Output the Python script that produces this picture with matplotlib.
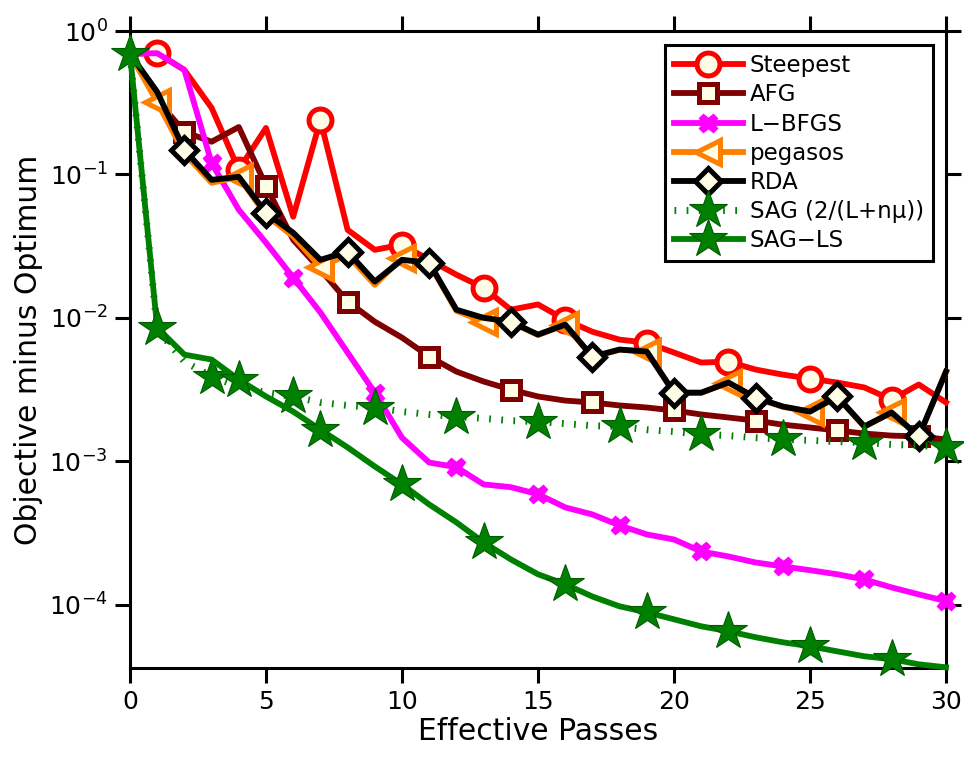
import matplotlib
matplotlib.use("Agg")
import matplotlib.pyplot as plt
from matplotlib.ticker import NullLocator, FixedLocator

# effective passes 0..30
passes = list(range(31))

steepest = [0.693, 0.703, 0.535, 0.291, 0.108, 0.211, 0.0507, 0.240, 0.0411, 0.0298,
            0.0324, 0.0254, 0.0200, 0.0162, 0.0114, 0.0124, 0.0097, 0.0080, 0.00705,
            0.00671, 0.00573, 0.00488, 0.00495, 0.00436, 0.00402, 0.00377, 0.00354,
            0.00327, 0.00269, 0.00343, 0.00257]
afg = [0.693, 0.33, 0.198, 0.169, 0.214, 0.0833, 0.0350, 0.0217, 0.0130, 0.0094,
       0.00728, 0.00537, 0.00422, 0.00360, 0.00316, 0.00283, 0.00265, 0.00257,
       0.00245, 0.00237, 0.00226, 0.00212, 0.00202, 0.00192, 0.00180, 0.00172,
       0.00164, 0.00156, 0.00151, 0.00149, 0.00142]
lbfgs = [0.693, 0.70, 0.535, 0.120, 0.0567, 0.0334, 0.0191, 0.0109, 0.00573, 0.00301,
         0.00146, 0.00098, 0.00091, 0.00069, 0.00066, 0.00059, 0.000477, 0.000426,
         0.000357, 0.000309, 0.000285, 0.000235, 0.000217, 0.000197, 0.000185,
         0.000174, 0.000163, 0.000150, 0.000132, 0.000118, 0.000106]
pegasos = [0.693, 0.320, 0.140, 0.0874, 0.096, 0.052, 0.037, 0.0227, 0.0275, 0.0170,
           0.0262, 0.0240, 0.0112, 0.0094, 0.0093, 0.0076, 0.00897, 0.0053, 0.0060,
           0.00582, 0.0030, 0.0030, 0.00354, 0.00275, 0.0024, 0.00222, 0.0028,
           0.00174, 0.00219, 0.00149, 0.00422]
rda = [0.693, 0.376, 0.148, 0.0917, 0.0962, 0.0540, 0.0392, 0.0254, 0.0289, 0.0179,
       0.0254, 0.0242, 0.0114, 0.0100, 0.0094, 0.00764, 0.00897, 0.00537, 0.00601,
       0.00582, 0.00301, 0.00301, 0.00354, 0.00278, 0.00241, 0.00222, 0.00283,
       0.00175, 0.00219, 0.00149, 0.00422]
sag = [0.693, 0.00828, 0.00495, 0.00390, 0.00332, 0.00301, 0.00283, 0.00257, 0.00245,
       0.00237, 0.00222, 0.00212, 0.00205, 0.00199, 0.00192, 0.00189, 0.00183,
       0.00177, 0.00175, 0.00166, 0.00161, 0.00154, 0.00151, 0.00146, 0.00142,
       0.00140, 0.00137, 0.00135, 0.00131, 0.00129, 0.00125]
sag_ls = [0.693, 0.00855, 0.00554, 0.00512, 0.00371, 0.00283, 0.00222, 0.00166,
          0.00125, 0.00092, 0.00069, 0.000500, 0.000375, 0.000272, 0.000207,
          0.000163, 0.000139, 0.000114, 0.0000974, 0.0000885, 0.0000791, 0.0000707,
          0.0000653, 0.0000593, 0.0000547, 0.0000513, 0.0000473, 0.0000437,
          0.0000417, 0.0000384, 0.0000366]

labels = ["Steepest", "AFG", "L\u2212BFGS", "pegasos", "RDA",
          "SAG (2/(L+n\u03bc))", "SAG\u2212LS"]
x_ticks = [0, 5, 10, 15, 20, 25, 30]
y_ticks = [1e0, 1e-1, 1e-2, 1e-3, 1e-4]

FACE = "#fffde6"
LW = 4.2

plt.rcParams["font.family"] = ["DejaVu Sans"]
plt.rcParams["mathtext.fontset"] = "dejavusans"

fig = plt.figure(figsize=(9.64, 7.6), dpi=100)
ax = fig.add_axes([130 / 964, 1 - 668 / 760, 816 / 964, 637 / 760])

common = dict(lw=LW, clip_on=False, zorder=3)
ax.plot(passes, steepest, color="#ff0000", marker="o", ms=16.5, mew=3.6, mfc=FACE,
        markevery=(1, 3), label=labels[0], **common)
ax.plot(passes, afg, color="#7f0000", marker="s", ms=13, mew=3.6, mfc=FACE,
        markevery=(2, 3), label=labels[1], **common)
ax.plot(passes, lbfgs, color="#ff00ff", marker="X", ms=13, mew=1, mfc="#ff00ff",
        markevery=(3, 3), label=labels[2], **common)
ax.plot(passes, pegasos, color="#ff8000", marker="<", ms=17, mew=3.6, mfc=FACE,
        markevery=(1, 3), label=labels[3], **common)
ax.plot(passes, rda, color="#000000", marker="D", ms=13, mew=3.6, mfc=FACE,
        markevery=(2, 3), label=labels[4], **common)
ax.plot(passes, sag, color="#008000", marker="*", ms=29, mew=0.8, mec="#005a00",
        mfc="#008000", markevery=(0, 3), label=labels[5], clip_on=False, zorder=3,
        lw=5, linestyle=(0, (0.25, 1.5)), dash_capstyle="butt")
ax.plot(passes, sag_ls, color="#008000", marker="*", ms=29, mew=0.8, mec="#005a00",
        mfc="#008000", markevery=(1, 3), label=labels[6], **common)

ax.set_yscale("log")
ax.set_xlim(0, 30)
ax.set_ylim(3.62e-5, 1.0)
ax.xaxis.set_major_locator(FixedLocator(x_ticks))
ax.yaxis.set_major_locator(FixedLocator(y_ticks))
ax.yaxis.set_minor_locator(NullLocator())
ax.xaxis.set_minor_locator(NullLocator())

for sp in ax.spines.values():
    sp.set_linewidth(2.2)
ax.tick_params(which="major", direction="out", length=11, width=2.2,
               labelsize=18, top=True, right=True, pad=5)

ax.set_xlabel("Effective Passes", fontsize=21.5, labelpad=2)
ax.set_ylabel("Objective minus Optimum", fontsize=21.5, labelpad=4)

leg = ax.legend(loc="upper right", bbox_to_anchor=(0.984, 0.978), borderaxespad=0,
                fontsize=16.5, numpoints=1, handlelength=3.0, handletextpad=0.3,
                labelspacing=0.27, borderpad=0.4, fancybox=False, framealpha=1,
                edgecolor="black")
leg.get_frame().set_linewidth(2.2)

fig.savefig("out.png", dpi=100)
